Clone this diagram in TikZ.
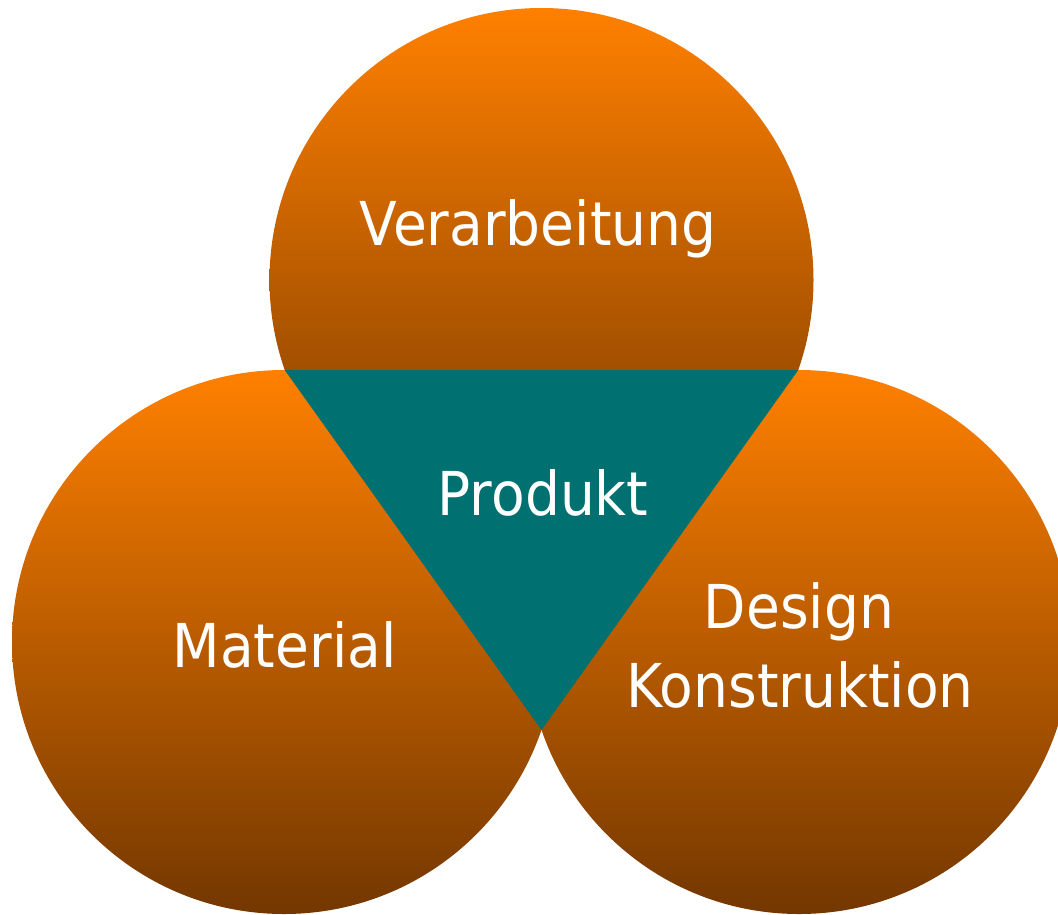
\documentclass[tikz,border=0pt]{standalone}
\usepackage{fontspec}
\setmainfont{DejaVu Sans}[FakeStretch=0.91]
\definecolor{orangetop}{RGB}{255,128,0}
\definecolor{brownbot}{RGB}{115,55,0}
\definecolor{tealfill}{RGB}{0,112,112}
\begin{document}
\begin{tikzpicture}[x=1pt,y=-1pt,
  ball/.style={shade, top color=orangetop, bottom color=brownbot, draw=none},
  lbl/.style={text=white, font=\fontsize{60.5}{60}\selectfont, anchor=base, inner sep=0pt}]
\useasboundingbox (0,0) rectangle (1058,914);
\clip (0,0) rectangle (1058,914);
\path[ball] (541.5,280) circle[radius=272];
\path[ball] (284,642) circle[radius=272];
\path[ball] (799,642) circle[radius=272];
\coordinate (tl) at (284.7,370);
\coordinate (tr) at (798.3,370);
\coordinate (bt) at (541.5,730);
\fill[tealfill] (tl) -- (tr) -- (bt) -- cycle;
\node[lbl] (verarb) at (538,245) {Verarbeitung};
\node[lbl] (produkt) at (543,515) {Produkt};
\node[lbl] (material) at (284.5,667) {Material};
\node[lbl] (design) at (799,628) {Design};
\node[lbl] (konstr) at (800,707) {Konstruktion};
\end{tikzpicture}
\end{document}
